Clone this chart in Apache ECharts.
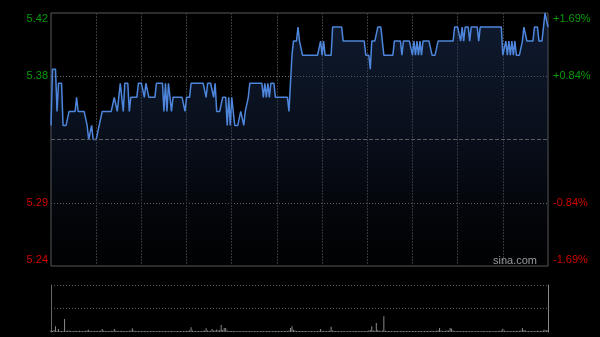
<!DOCTYPE html>
<html>
<head>
<meta charset="utf-8">
<script src="https://cdn.jsdelivr.net/npm/echarts@6/dist/echarts.min.js"></script>
<style>
html,body{margin:0;padding:0;background:#000;}
#c{width:600px;height:337px;}
</style>
</head>
<body>
<div id="c"></div>
<script>
// ---- data ----
var prevClose = 5.33;
var priceMin = 5.24, priceMax = 5.42, priceStep = 0.045;
var leftTickLabels = ['5.24', '5.29', '', '5.38', '5.42'];
var rightTickLabels = ['-1.69%', '-0.84%', '', '+0.84%', '+1.69%'];

var prices = [
5.34,5.38,5.38,5.38,5.35,5.37,5.37,5.37,5.34,5.34,
5.34,5.34,5.35,5.35,5.35,5.35,5.35,5.36,5.35,5.35,
5.35,5.35,5.35,5.35,5.34,5.33,5.33,5.34,5.33,5.33,
5.33,5.33,5.34,5.34,5.35,5.35,5.35,5.35,5.35,5.35,
5.35,5.35,5.36,5.36,5.35,5.36,5.37,5.37,5.35,5.37,
5.37,5.37,5.35,5.36,5.36,5.36,5.36,5.36,5.37,5.37,
5.37,5.37,5.36,5.37,5.37,5.36,5.36,5.36,5.36,5.36,
5.37,5.37,5.37,5.37,5.37,5.35,5.37,5.35,5.37,5.37,
5.35,5.36,5.36,5.36,5.36,5.36,5.36,5.36,5.36,5.35,
5.36,5.36,5.36,5.37,5.37,5.37,5.37,5.37,5.37,5.37,
5.37,5.37,5.37,5.36,5.37,5.37,5.37,5.37,5.36,5.37,
5.35,5.35,5.35,5.35,5.36,5.36,5.36,5.34,5.36,5.34,
5.36,5.36,5.34,5.34,5.34,5.34,5.35,5.35,5.34,5.35,
5.35,5.36,5.37,5.37,5.37,5.37,5.37,5.37,5.37,5.37,
5.37,5.36,5.37,5.36,5.37,5.36,5.37,5.37,5.37,5.36,
5.36,5.36,5.36,5.36,5.36,5.36,5.36,5.36,5.35,5.37,
5.39,5.40,5.40,5.40,5.41,5.40,5.40,5.39,5.39,5.39,
5.39,5.39,5.39,5.39,5.39,5.39,5.39,5.39,5.39,5.40,
5.39,5.40,5.39,5.39,5.39,5.39,5.39,5.41,5.41,5.41,
5.41,5.41,5.41,5.41,5.40,5.40,5.40,5.40,5.40,5.40,
5.40,5.40,5.40,5.40,5.40,5.40,5.40,5.40,5.40,5.39,
5.39,5.39,5.38,5.40,5.40,5.40,5.40,5.41,5.41,5.41,
5.41,5.39,5.39,5.39,5.39,5.39,5.39,5.39,5.40,5.40,
5.40,5.40,5.40,5.39,5.40,5.40,5.40,5.40,5.40,5.40,
5.39,5.40,5.39,5.40,5.39,5.40,5.39,5.40,5.40,5.40,
5.40,5.40,5.40,5.39,5.39,5.39,5.39,5.40,5.40,5.40,
5.40,5.40,5.40,5.40,5.40,5.40,5.40,5.40,5.41,5.41,
5.41,5.41,5.40,5.41,5.40,5.41,5.41,5.41,5.40,5.41,
5.41,5.41,5.41,5.41,5.40,5.41,5.41,5.41,5.41,5.41,
5.41,5.41,5.41,5.41,5.41,5.41,5.41,5.41,5.41,5.41,
5.39,5.39,5.40,5.39,5.40,5.39,5.40,5.39,5.40,5.39,
5.39,5.39,5.39,5.40,5.41,5.41,5.40,5.40,5.40,5.40,
5.40,5.41,5.41,5.41,5.40,5.40,5.40,5.40,5.42,5.42,
5.41
];

// volume, thousand shares
var volumes = [
30,22,40,114,25,60,20,18,22,260,
24,26,30,20,18,22,25,20,18,24,
20,22,18,25,30,46,20,18,22,20,
18,22,20,25,60,30,20,18,22,20,
25,20,60,30,22,18,20,24,20,18,
22,20,25,30,74,28,20,18,22,20,
18,20,22,18,20,16,18,20,22,18,
16,18,20,18,16,20,22,18,16,18,
20,18,16,18,20,22,18,16,20,22,
20,24,30,94,28,20,18,20,22,18,
20,24,30,74,30,22,26,60,28,30,
50,30,40,140,40,80,80,30,22,20,
18,20,18,16,18,20,18,16,18,20,
18,16,18,20,16,18,20,18,16,18,
20,18,16,18,20,18,16,20,18,20,
18,20,22,18,20,22,24,20,30,80,
114,40,30,22,20,18,20,22,18,20,
18,16,18,20,18,22,20,18,24,60,
26,20,18,22,20,24,106,30,20,18,
20,18,16,18,20,18,16,18,20,18,
16,18,20,18,16,18,20,22,18,20,
22,30,40,114,30,24,180,40,24,22,
30,314,26,20,18,20,18,16,18,20,
18,16,18,20,18,16,18,20,18,16,
18,20,18,16,18,20,18,16,20,18,
20,18,22,24,20,22,26,30,80,28,
22,20,24,28,30,80,70,30,22,20,
18,20,18,16,18,20,18,16,18,20,
18,16,18,20,18,16,18,20,18,16,
18,20,18,16,20,18,22,20,24,30,
66,28,20,18,22,20,18,20,22,24,
20,26,30,80,40,28,22,20,18,20,
22,18,20,24,20,22,26,30,46,28,
40
];
var volumeMax = 940;

// trading minutes (HK): 09:30-12:00, 13:00-16:00
var times = [];
(function () {
  function pad(n) { return (n < 10 ? '0' : '') + n; }
  for (var m = 9 * 60 + 30; m < 12 * 60; m++) times.push(pad(Math.floor(m / 60)) + ':' + pad(m % 60));
  for (var m2 = 13 * 60; m2 <= 16 * 60; m2++) times.push(pad(Math.floor(m2 / 60)) + ':' + pad(m2 % 60));
})();

// ---- chart ----
var FONT = 'Liberation Sans, Arial, sans-serif';
var GREEN = '#0b9a0b', RED = '#d40000';
var tokenFor = ['rb', 'r', 'n', 'g', 'gt'];
function richSet(align) {
  return {
    g:  { color: GREEN, fontSize: 11, fontFamily: FONT },
    gt: { color: GREEN, fontSize: 11, fontFamily: FONT, padding: [12, 0, 0, 0] },
    r:  { color: RED, fontSize: 11, fontFamily: FONT },
    rb: { color: RED, fontSize: 11, fontFamily: FONT, padding: [0, 0, 12, 0] },
    n:  { color: '#888', fontSize: 11, fontFamily: FONT }
  };
}
function fmt(labels) {
  return function (v, idx) {
    var t = labels[idx];
    if (!t) return '';
    return '{' + tokenFor[idx] + '|' + t + '}';
  };
}
var vSplit = function (idx) { return idx % 30 === 0 && idx !== 0 && idx !== times.length - 1; };

var chart = echarts.init(document.getElementById('c'), null, { renderer: 'canvas' });
chart.setOption({
  backgroundColor: '#000',
  animation: false,
  grid: [
    { left: 51, right: 52, top: 13, height: 253, show: true, borderColor: '#5a5a5a', borderWidth: 1, backgroundColor: 'transparent' },
    { left: 51, right: 52, top: 285, height: 47 }
  ],
  xAxis: [
    { type: 'category', gridIndex: 0, data: times, boundaryGap: false,
      axisLine: { show: false }, axisTick: { show: false }, axisLabel: { show: false },
      splitLine: { show: true, interval: vSplit, lineStyle: { color: '#3a3a3a', width: 1, type: [2, 1] } } },
    { type: 'category', gridIndex: 1, data: times, boundaryGap: false,
      axisLine: { show: false }, axisTick: { show: false }, axisLabel: { show: false },
      splitLine: { show: false } }
  ],
  yAxis: [
    { type: 'value', gridIndex: 0, position: 'left', min: priceMin, max: priceMax, interval: priceStep,
      axisLine: { show: false }, axisTick: { show: false },
      axisLabel: { show: true, margin: 3, formatter: fmt(leftTickLabels), rich: richSet() },
      splitLine: { show: true, lineStyle: { color: ['transparent', '#6a6a6a', 'transparent', '#6a6a6a', 'transparent'], width: 1, type: [1, 2] } } },
    { type: 'value', gridIndex: 0, position: 'right', min: priceMin, max: priceMax, interval: priceStep,
      axisLine: { show: false }, axisTick: { show: false },
      axisLabel: { show: true, margin: 5, formatter: fmt(rightTickLabels), rich: richSet() },
      splitLine: { show: false } },
    { type: 'value', gridIndex: 1, position: 'left', min: 0, max: volumeMax, interval: volumeMax / 2,
      axisLine: { show: true, lineStyle: { color: '#666', width: 1 } }, axisTick: { show: false }, axisLabel: { show: false },
      splitLine: { show: true, lineStyle: { color: ['transparent', '#5a5a5a', '#5a5a5a'], width: 1, type: [1, 2] } } },
    { type: 'value', gridIndex: 1, position: 'right', min: 0, max: volumeMax, interval: volumeMax / 2,
      axisLine: { show: true, lineStyle: { color: '#888', width: 1 } }, axisTick: { show: false }, axisLabel: { show: false },
      splitLine: { show: false } }
  ],
  series: [
    { type: 'line', xAxisIndex: 0, yAxisIndex: 0, data: prices, symbol: 'none', showSymbol: false,
      lineStyle: { color: '#4d86dc', width: 1.5 },
      areaStyle: { origin: 'start', color: new echarts.graphic.LinearGradient(0, 0, 0, 1, [
        { offset: 0, color: 'rgba(36,62,110,0.62)' },
        { offset: 0.5, color: 'rgba(30,50,90,0.42)' },
        { offset: 1, color: 'rgba(10,16,30,0.15)' }
      ]) },
      markLine: { silent: true, symbol: 'none', label: { show: false },
        lineStyle: { color: '#5c5c5c', width: 1, type: [4, 2] },
        data: [{ yAxis: prevClose }] },
      z: 3 },
    { type: 'bar', xAxisIndex: 1, yAxisIndex: 2, data: volumes, barWidth: 1,
      itemStyle: { color: '#8a8a8a' } }
  ],
  graphic: [
    { type: 'text', right: 63, top: 255, style: { text: 'sina.com', fill: '#aaaaaa', font: '11px ' + FONT } }
  ]
});
</script>
</body>
</html>
